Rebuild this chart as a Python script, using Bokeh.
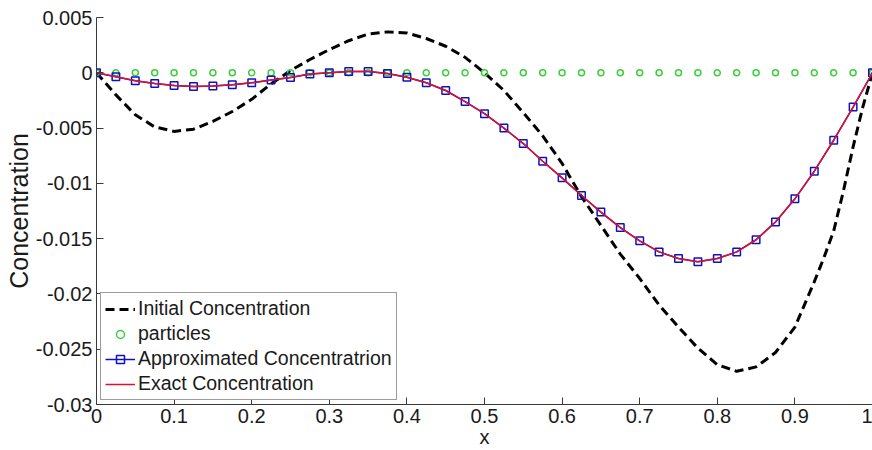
from bokeh.plotting import figure
from bokeh.models import Range1d, FixedTicker, Legend, LegendItem
from bokeh.embed import file_html
from bokeh.resources import INLINE

# ---------------- data ----------------
x_nodes = [0.0, 0.025, 0.05, 0.075, 0.1, 0.125, 0.15, 0.175, 0.2, 0.225,
           0.25, 0.275, 0.3, 0.325, 0.35, 0.375, 0.4, 0.425, 0.45, 0.475,
           0.5, 0.525, 0.55, 0.575, 0.6, 0.625, 0.65, 0.675, 0.7, 0.725,
           0.75, 0.775, 0.8, 0.825, 0.85, 0.875, 0.9, 0.925, 0.95, 0.975, 1.0]

particles_c = [0.0, 0.0, 0.0, 0.0, 0.0, 0.0, 0.0, 0.0, 0.0, 0.0,
               0.0, 0.0, 0.0, 0.0, 0.0, 0.0, 0.0, 0.0, 0.0, 0.0,
               0.0, 0.0, 0.0, 0.0, 0.0, 0.0, 0.0, 0.0, 0.0, 0.0,
               0.0, 0.0, 0.0, 0.0, 0.0, 0.0, 0.0, 0.0, 0.0, 0.0, 0.0]

approx_c = [0.0, -0.00036, -0.00072, -0.00097, -0.00115, -0.00124, -0.00120, -0.00108,
            -0.00090, -0.00066, -0.00042, -0.00012, 0.0, 0.00012, 0.00012, -0.00006,
            -0.0004, -0.0009, -0.0016, -0.0026, -0.0037, -0.0050, -0.0064, -0.0080,
            -0.0095, -0.0111, -0.0126, -0.0140, -0.0152, -0.0162, -0.0168, -0.0171,
            -0.0168, -0.0162, -0.0151, -0.0135, -0.0114, -0.0089, -0.0061, -0.0031, 0.0]

exact_c = [0.0, -0.00036, -0.00072, -0.00097, -0.00115, -0.00124, -0.00120, -0.00108,
           -0.00090, -0.00066, -0.00042, -0.00012, 0.0, 0.00012, 0.00012, -0.00006,
           -0.0004, -0.0009, -0.0016, -0.0026, -0.0037, -0.0050, -0.0064, -0.0080,
           -0.0095, -0.0111, -0.0126, -0.0140, -0.0152, -0.0162, -0.0168, -0.0171,
           -0.0168, -0.0162, -0.0151, -0.0135, -0.0114, -0.0089, -0.0061, -0.0031, 0.0]

init_x = [0.0, 0.025, 0.05, 0.075, 0.1, 0.125, 0.15, 0.175, 0.2, 0.225,
          0.25, 0.275, 0.3, 0.325, 0.35, 0.375, 0.4, 0.425, 0.45, 0.475,
          0.5, 0.525, 0.55, 0.575, 0.6, 0.625, 0.65, 0.675, 0.7, 0.725,
          0.75, 0.775, 0.8, 0.825, 0.85, 0.875, 0.9, 0.925, 0.9375, 0.95,
          0.9625, 0.975, 0.9875, 1.0]
init_c = [0.0, -0.0020, -0.0038, -0.0049, -0.0053, -0.0051, -0.0044, -0.0035, -0.0024, -0.0010,
          0.0002, 0.0012, 0.0021, 0.0029, 0.0035, 0.0037, 0.0036, 0.0031, 0.0024, 0.0014,
          0.0, -0.0016, -0.0036, -0.0057, -0.0082, -0.0112, -0.0138, -0.0164, -0.0186, -0.0210,
          -0.0230, -0.0249, -0.0264, -0.0270, -0.0266, -0.0253, -0.0230, -0.0189, -0.0167, -0.0143,
          -0.0107, -0.0067, -0.0031, 0.0]

x_ticks = [0.0, 0.1, 0.2, 0.3, 0.4, 0.5, 0.6, 0.7, 0.8, 0.9, 1.0]
x_tick_labels = ["0", "0.1", "0.2", "0.3", "0.4", "0.5", "0.6", "0.7", "0.8", "0.9", "1"]
y_ticks = [0.005, 0.0, -0.005, -0.01, -0.015, -0.02, -0.025, -0.03]
y_tick_labels = ["0.005", "0", "-0.005", "-0.01", "-0.015", "-0.02", "-0.025", "-0.03"]

labels = ["Initial Concentration", "particles", "Approximated Concentratrion", "Exact Concentration"]
x_title = "x"
y_title = "Concentration"

FONT = "Liberation Sans"

# ---------------- figure ----------------
p = figure(width=872, height=450,
           x_range=Range1d(0, 1), y_range=Range1d(-0.03, 0.005),
           output_backend="svg", toolbar_location=None,
           min_border_left=96, min_border_right=0, min_border_top=17, min_border_bottom=46)
p.outline_line_color = None
p.grid.visible = False
p.background_fill_color = "white"

r_init = p.line(init_x, init_c, line_color="black", line_width=3, line_dash="9 5")
r_part = p.scatter(x_nodes, particles_c, marker="circle", size=6, fill_color=None,
                   line_color="#3ccf3c", line_width=1.5)
r_appl = p.line(x_nodes, approx_c, line_color="#1010c0", line_width=1.5)
r_apps = p.scatter(x_nodes, approx_c, marker="square", size=7.5, fill_color=None,
                   line_color="#1010c0", line_width=1.5)
r_exact = p.line(x_nodes, exact_c, line_color="#e0102a", line_width=1.5)

for ax in (p.xaxis[0], p.yaxis[0]):
    ax.axis_line_color = "#3a3a3a"
    ax.major_tick_line_color = "#3a3a3a"
    ax.major_tick_in = 7
    ax.major_tick_out = 0
    ax.minor_tick_line_color = None
    ax.major_label_text_font = FONT
    ax.major_label_text_font_size = "20px"
    ax.major_label_text_color = "#1a1a1a"
    ax.axis_label_text_font = FONT
    ax.axis_label_text_font_style = "normal"
    ax.axis_label_text_color = "#1a1a1a"

p.xaxis.ticker = FixedTicker(ticks=x_ticks)
p.xaxis.major_label_overrides = {t: s for t, s in zip(x_ticks, x_tick_labels)}
p.xaxis.major_label_standoff = 4
p.xaxis.axis_label = x_title
p.xaxis.axis_label_text_font_size = "20px"
p.xaxis.axis_label_standoff = 0

p.yaxis.ticker = FixedTicker(ticks=y_ticks)
p.yaxis.major_label_overrides = {t: s for t, s in zip(y_ticks, y_tick_labels)}
p.yaxis.major_label_standoff = 4
p.yaxis.axis_label = y_title
p.yaxis.axis_label_text_font_size = "25px"
p.yaxis.axis_label_standoff = 0

legend = Legend(items=[
    LegendItem(label=labels[0], renderers=[r_init]),
    LegendItem(label=labels[1], renderers=[r_part]),
    LegendItem(label=labels[2], renderers=[r_appl, r_apps]),
    LegendItem(label=labels[3], renderers=[r_exact]),
], location="bottom_left")
legend.label_text_font = FONT
legend.label_text_font_size = "19.5px"
legend.label_text_color = "#1a1a1a"
legend.glyph_width = 30
legend.glyph_height = 20
legend.label_height = 20
legend.label_standoff = 3
legend.padding = 4
legend.spacing = 2
legend.margin = 4
legend.border_line_color = "#3a3a3a"
legend.border_line_width = 1
legend.background_fill_alpha = 1.0
p.add_layout(legend)

open("out.html", "w").write(file_html(p, INLINE))
